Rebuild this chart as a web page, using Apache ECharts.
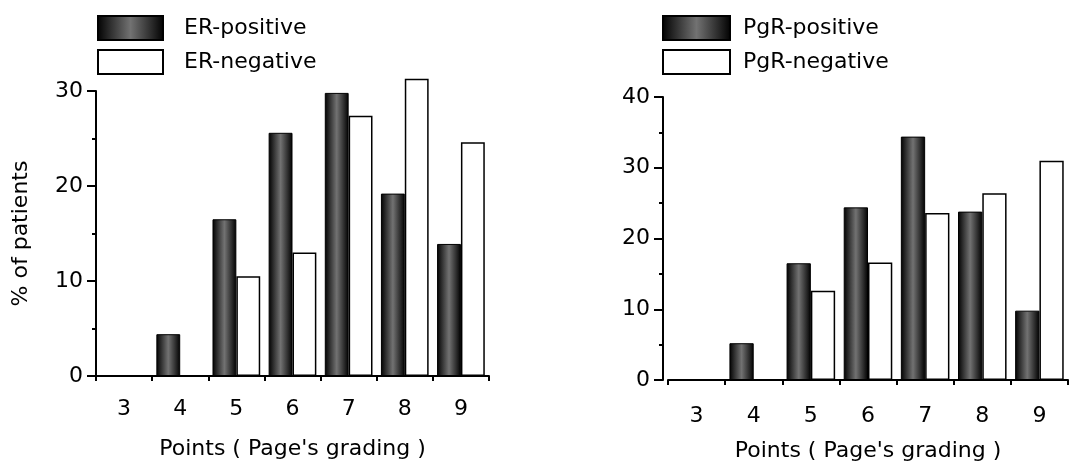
<!DOCTYPE html>
<html>
<head>
<meta charset="utf-8">
<script src="https://cdn.jsdelivr.net/npm/echarts@6/dist/echarts.min.js"></script>
<style>
  html, body { margin: 0; padding: 0; background: #fff; }
  #main { width: 1074px; height: 463px; }
</style>
</head>
<body>
<div id="main"></div>
<script>
  // Page's grading points
  const points = ['3', '4', '5', '6', '7', '8', '9'];
  // % of patients, left panel
  const erPositive = [0, 4.4, 16.5, 25.6, 29.8, 19.2, 13.9];
  const erNegative = [0, 0, 10.5, 13.0, 27.4, 31.3, 24.6];
  // % of patients, right panel
  const pgrPositive = [0, 5.2, 16.5, 24.4, 34.4, 23.8, 9.8];
  const pgrNegative = [0, 0, 12.6, 16.6, 23.6, 26.4, 31.0];

  const font = 'DejaVu Sans, sans-serif';
  const chart = echarts.init(document.getElementById('main'));

  // stippled dark fill: black edges, grey centre
  const darkFill = {
    type: 'linear', x: 0, y: 0, x2: 1, y2: 0,
    colorStops: [
      {offset: 0, color: '#000'},
      {offset: 0.18, color: '#2a2a2a'},
      {offset: 0.5, color: '#727272'},
      {offset: 0.82, color: '#2a2a2a'},
      {offset: 1, color: '#000'}
    ]
  };

  function xAxisFor(idx, labelMargin, nameGap) {
    return {
      type: 'category',
      gridIndex: idx,
      data: points,
      name: "Points ( Page's grading )",
      nameLocation: 'middle',
      nameGap: nameGap,
      nameTextStyle: {fontFamily: font, fontSize: 22, color: '#000'},
      axisLine: {lineStyle: {color: '#000', width: 2}},
      axisTick: {show: true, length: 5, lineStyle: {color: '#000', width: 2}},
      axisLabel: {fontFamily: font, fontSize: 22, color: '#000', margin: labelMargin}
    };
  }

  function yAxisFor(idx, max, name, offset) {
    return {
      type: 'value',
      gridIndex: idx,
      min: 0,
      max: max,
      interval: 10,
      offset: offset,
      name: name,
      nameLocation: 'middle',
      nameGap: 64,
      nameTextStyle: {fontFamily: font, fontSize: 22, color: '#000'},
      splitLine: {show: false},
      axisLine: {show: true, lineStyle: {color: '#000', width: 2}},
      axisTick: {show: true, length: 9, lineStyle: {color: '#000', width: 2}},
      minorTick: {show: true, splitNumber: 2, length: 4, lineStyle: {color: '#000', width: 2}},
      axisLabel: {fontFamily: font, fontSize: 22, color: '#000', margin: 13}
    };
  }

  function barSeries(name, data, idx, filled) {
    return {
      name: name,
      type: 'bar',
      xAxisIndex: idx,
      yAxisIndex: idx,
      data: data,
      clip: false,
      barGap: '0%',
      barCategoryGap: '15%',
      itemStyle: filled
        ? {color: darkFill, borderColor: '#000', borderWidth: 1}
        : {color: '#fff', borderColor: '#000', borderWidth: 1.5},
      emphasis: {disabled: true}
    };
  }

  chart.setOption({
    animation: false,
    legend: [
      {
        orient: 'vertical', left: 92, top: 10, itemWidth: 65, itemHeight: 24, itemGap: 8,
        icon: 'rect',
        textStyle: {fontFamily: font, fontSize: 22, color: '#000', padding: [0, 0, 0, 16]},
        data: ['ER-positive', 'ER-negative']
      },
      {
        orient: 'vertical', left: 657, top: 10, itemWidth: 67, itemHeight: 24, itemGap: 8,
        icon: 'rect',
        textStyle: {fontFamily: font, fontSize: 22, color: '#000', padding: [0, 0, 0, 8]},
        data: ['PgR-positive', 'PgR-negative']
      }
    ],
    grid: [
      {left: 96, right: 585, top: 91, bottom: 87, outerBoundsMode: 'none'},
      {left: 668, right: 6, top: 97, bottom: 83, outerBoundsMode: 'none'}
    ],
    xAxis: [xAxisFor(0, 22, 62), xAxisFor(1, 25, 60)],
    yAxis: [
      yAxisFor(0, 30, '% of patients', 0),
      yAxisFor(1, 40, '', 5)
    ],
    series: [
      barSeries('ER-positive', erPositive, 0, true),
      barSeries('ER-negative', erNegative, 0, false),
      barSeries('PgR-positive', pgrPositive, 1, true),
      barSeries('PgR-negative', pgrNegative, 1, false)
    ]
  });
</script>
</body>
</html>
